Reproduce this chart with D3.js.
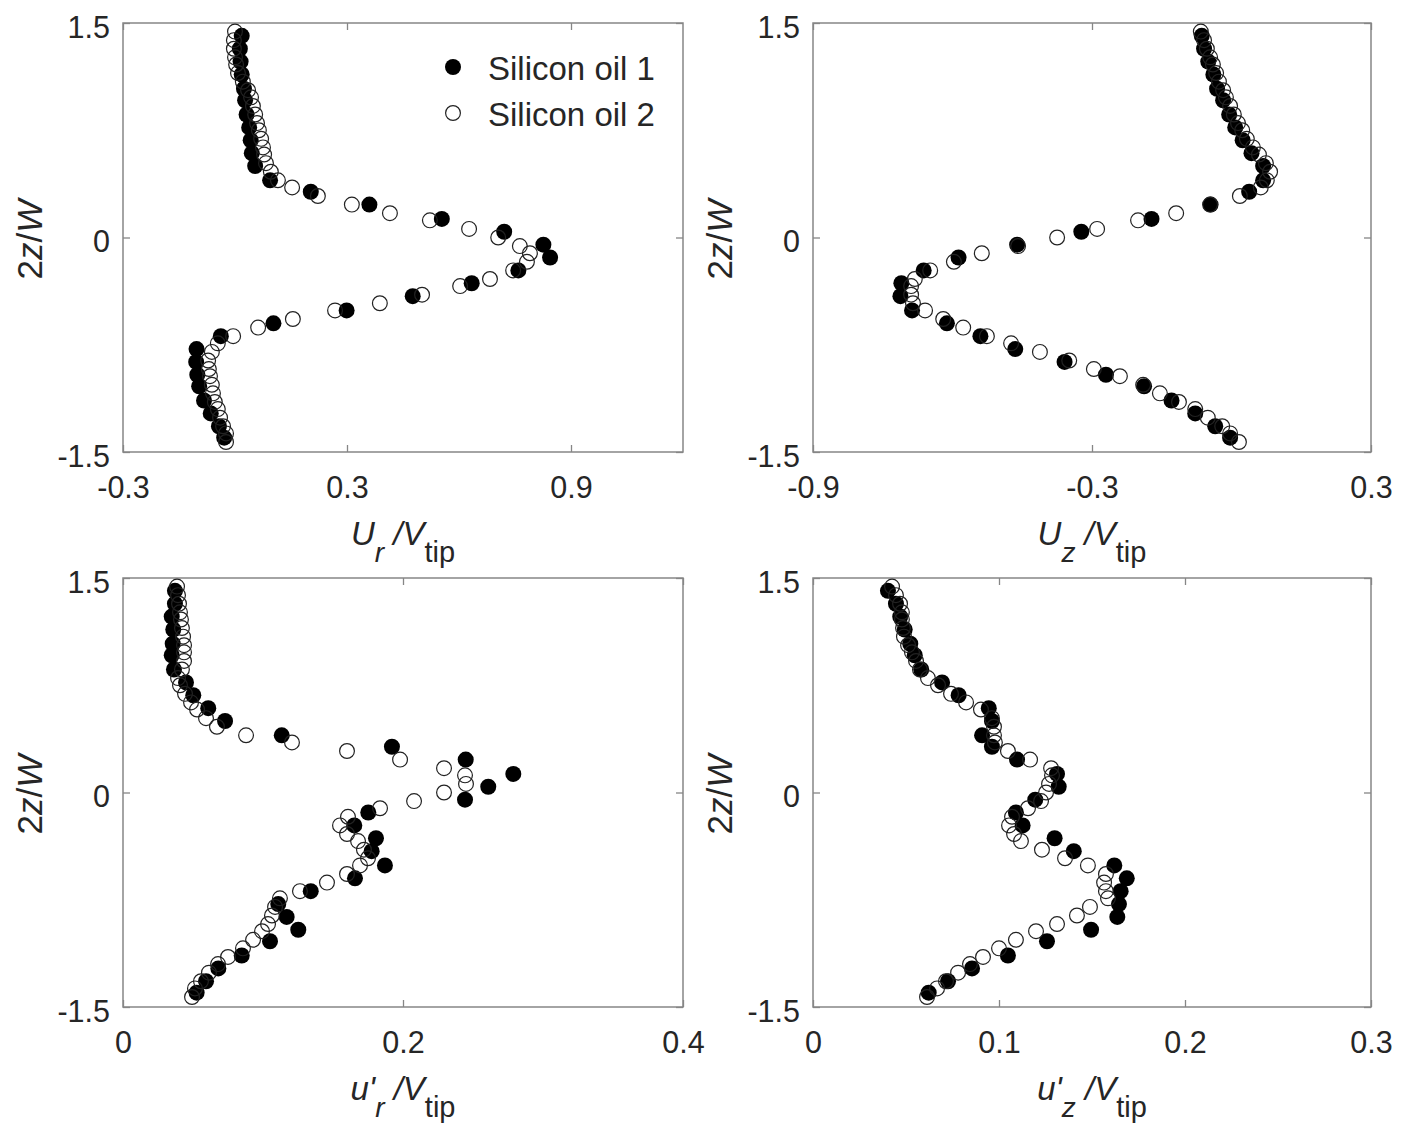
<!DOCTYPE html>
<html>
<head>
<meta charset="utf-8">
<script src="https://cdn.jsdelivr.net/npm/d3@7"></script>
<style>
  body { margin: 0; background: #fff; }
  text { font-family: Arial, "Liberation Sans", Helvetica, sans-serif; fill: #262626; }
</style>
</head>
<body>
<script>
// normalised height 2z/W for each series
const zOil1 = [1.41,1.32,1.23,1.14,1.04,0.96,0.86,0.77,0.68,0.59,0.50,0.40,0.32,0.23,0.13,0.04,
  -0.05,-0.14,-0.23,-0.32,-0.41,-0.51,-0.60,-0.69,-0.78,-0.87,-0.96,-1.04,-1.14,-1.23,-1.32,-1.40];
const zOil2 = [1.44,1.38,1.32,1.26,1.21,1.15,1.09,1.03,0.98,0.92,0.86,0.80,0.75,0.69,0.63,0.58,0.52,
  0.46,0.40,0.35,0.29,0.23,0.17,0.12,0.06,0.00,-0.06,-0.11,-0.17,-0.23,-0.29,-0.34,-0.40,-0.46,-0.51,
  -0.57,-0.63,-0.69,-0.74,-0.80,-0.86,-0.92,-0.97,-1.03,-1.09,-1.15,-1.20,-1.26,-1.32,-1.37,-1.43];

// Ur/Vtip
const urOil1 = [0.018,0.013,0.015,0.018,0.024,0.027,0.031,0.038,0.042,0.045,0.054,0.094,0.203,0.360,
  0.554,0.721,0.826,0.844,0.759,0.634,0.476,0.299,0.103,-0.038,-0.103,-0.104,-0.101,-0.096,-0.083,
  -0.065,-0.043,-0.029];
const urOil2 = [0.000,-0.003,-0.003,0.000,0.003,0.008,0.021,0.035,0.043,0.048,0.054,0.059,0.064,0.070,
  0.075,0.078,0.083,0.096,0.115,0.153,0.222,0.313,0.415,0.522,0.627,0.705,0.763,0.790,0.782,0.745,
  0.683,0.603,0.501,0.388,0.268,0.155,0.062,-0.005,-0.046,-0.062,-0.072,-0.070,-0.067,-0.062,-0.059,
  -0.054,-0.046,-0.040,-0.032,-0.024,-0.024];

// Uz/Vtip
const uzOil1 = [-0.064,-0.059,-0.050,-0.039,-0.031,-0.018,-0.005,0.008,0.024,0.043,0.068,0.068,0.038,
  -0.045,-0.172,-0.323,-0.461,-0.587,-0.662,-0.710,-0.712,-0.687,-0.612,-0.540,-0.465,-0.359,-0.270,
  -0.188,-0.129,-0.078,-0.035,-0.003];
const uzOil2 = [-0.066,-0.059,-0.053,-0.046,-0.040,-0.033,-0.027,-0.018,-0.012,-0.003,0.005,0.014,0.023,
  0.033,0.046,0.059,0.074,0.083,0.076,0.063,0.018,-0.046,-0.119,-0.201,-0.289,-0.375,-0.459,-0.537,
  -0.597,-0.648,-0.681,-0.689,-0.689,-0.685,-0.659,-0.620,-0.577,-0.526,-0.474,-0.412,-0.349,-0.296,
  -0.240,-0.190,-0.154,-0.113,-0.078,-0.051,-0.020,-0.003,0.016];

// u'r/Vtip
const urRmsOil1 = [0.0371,0.0371,0.0348,0.0359,0.0355,0.0348,0.0364,0.0450,0.0502,0.0609,0.0729,0.1134,
  0.1921,0.2448,0.2788,0.2609,0.2443,0.1752,0.1652,0.1807,0.1776,0.1871,0.1657,0.1341,0.1109,0.1169,
  0.1252,0.1050,0.0848,0.0681,0.0593,0.0526];
const urRmsOil2 = [0.0386,0.0393,0.0400,0.0407,0.0414,0.0421,0.0429,0.0436,0.0436,0.0436,0.0421,0.0393,
  0.0407,0.0443,0.0486,0.0529,0.0593,0.0671,0.0879,0.1207,0.1600,0.1979,0.2293,0.2443,0.2450,0.2293,
  0.2079,0.1836,0.1607,0.1550,0.1600,0.1679,0.1721,0.1750,0.1693,0.1600,0.1457,0.1264,0.1121,0.1086,
  0.1064,0.1036,0.0993,0.0929,0.0857,0.0750,0.0679,0.0614,0.0557,0.0514,0.0493];

// u'z/Vtip
const uzRmsOil1 = [0.0403,0.0446,0.0469,0.0493,0.0523,0.0547,0.0582,0.0694,0.0783,0.0945,0.0962,0.0909,
  0.0962,0.1097,0.1312,0.1321,0.1195,0.1091,0.1127,0.1299,0.1402,0.1620,0.1687,0.1654,0.1645,0.1636,
  0.1495,0.1258,0.1048,0.0855,0.0726,0.0622];
const uzRmsOil2 = [0.0425,0.0446,0.0468,0.0478,0.0478,0.0484,0.0489,0.0511,0.0532,0.0554,0.0575,0.0618,
  0.0672,0.0742,0.0823,0.0903,0.0962,0.0973,0.0973,0.0978,0.1048,0.1167,0.1280,0.1285,0.1269,0.1253,
  0.1226,0.1156,0.1070,0.1054,0.1081,0.1118,0.1231,0.1355,0.1478,0.1575,0.1565,0.1575,0.1586,0.1489,
  0.1419,0.1312,0.1199,0.1091,0.1000,0.0914,0.0844,0.0780,0.0715,0.0667,0.0613];

const yTicks = [-1.5, 0, 1.5];
const seriesNames = ["Silicon oil 1", "Silicon oil 2"];

const panels = [
  {x0:123, y0:23, w:560, h:429, dom:[-0.3,1.2], ticks:[-0.3,0.3,0.9], a:urOil1, b:urOil2, sym:"U", sub:"r", legend:true},
  {x0:813, y0:23, w:558, h:429, dom:[-0.9,0.3], ticks:[-0.9,-0.3,0.3], a:uzOil1, b:uzOil2, sym:"U", sub:"z"},
  {x0:123, y0:578, w:560, h:429, dom:[0,0.4], ticks:[0,0.2,0.4], a:urRmsOil1, b:urRmsOil2, sym:"u'", sub:"r"},
  {x0:813, y0:578, w:558, h:429, dom:[0,0.3], ticks:[0,0.1,0.2,0.3], a:uzRmsOil1, b:uzRmsOil2, sym:"u'", sub:"z"}
];

const axisColor = "#868686";
const fmt = d => String(d);

const svg = d3.select("body").append("svg")
  .attr("width", 1414)
  .attr("height", 1127);

panels.forEach(p => {
  const g = svg.append("g").attr("transform", `translate(${p.x0},${p.y0})`);
  const x = d3.scaleLinear().domain(p.dom).range([0, p.w]);
  const y = d3.scaleLinear().domain([-1.5, 1.5]).range([p.h, 0]);

  // ticks pointing inward, box like matlab
  g.append("g").attr("transform", `translate(0,${p.h})`)
    .call(d3.axisBottom(x).tickValues(p.ticks).tickSize(-7).tickSizeOuter(0).tickPadding(24).tickFormat(fmt));
  g.append("g")
    .call(d3.axisTop(x).tickValues(p.ticks).tickSize(-7).tickSizeOuter(0).tickFormat(""));
  const left = g.append("g")
    .call(d3.axisLeft(y).tickValues(yTicks).tickSize(-7).tickSizeOuter(0).tickPadding(13).tickFormat(fmt));
  g.append("g").attr("transform", `translate(${p.w},0)`)
    .call(d3.axisRight(y).tickValues(yTicks).tickSize(-7).tickSizeOuter(0).tickFormat(""));

  g.selectAll(".domain").remove();
  g.selectAll(".tick line").attr("stroke", axisColor).attr("stroke-width", 1.3);
  g.selectAll(".tick text").attr("font-size", 30.5).attr("fill", "#262626")
    .style("font-family", "Arial, 'Liberation Sans', sans-serif");
  left.selectAll(".tick text").attr("dy", "0.47em");

  g.append("rect")
    .attr("width", p.w).attr("height", p.h)
    .attr("fill", "none").attr("stroke", axisColor).attr("stroke-width", 1.5);

  // filled series first, open circles (no fill) on top
  g.selectAll("circle.s1")
    .data(p.a.map((v, i) => [v, zOil1[i]]))
    .enter().append("circle").attr("class", "s1")
    .attr("cx", d => x(d[0])).attr("cy", d => y(d[1])).attr("r", 8)
    .attr("fill", "#000");
  g.selectAll("circle.s2")
    .data(p.b.map((v, i) => [v, zOil2[i]]))
    .enter().append("circle").attr("class", "s2")
    .attr("cx", d => x(d[0])).attr("cy", d => y(d[1])).attr("r", 7.4)
    .attr("fill", "none").attr("stroke", "#222").attr("stroke-width", 1.2);

  // y label
  g.append("text")
    .attr("transform", `translate(-81,${p.h / 2 + 2}) rotate(-90)`)
    .attr("text-anchor", "middle")
    .attr("font-size", 35)
    .call(t => {
      t.append("tspan").text("2");
      t.append("tspan").attr("font-style", "italic").text("z");
      t.append("tspan").text("/");
      t.append("tspan").attr("font-style", "italic").text("W");
    });

  // x label
  g.append("text")
    .attr("x", p.w / 2).attr("y", p.h + 93)
    .attr("text-anchor", "middle")
    .attr("font-size", 33)
    .call(t => {
      t.append("tspan").attr("font-style", "italic").text(p.sym);
      t.append("tspan").attr("font-style", "italic").attr("font-size", 28).attr("dy", 17).text(p.sub);
      t.append("tspan").attr("font-style", "italic").attr("dy", -17).text("\u00a0/V");
      t.append("tspan").attr("font-size", 29).attr("dy", 17).text("tip");
    });

  if (p.legend) {
    const lg = g.append("g").attr("transform", "translate(330,44)");
    seriesNames.forEach((name, i) => {
      const row = lg.append("g").attr("transform", `translate(0,${i * 46})`);
      if (i === 0) {
        row.append("circle").attr("r", 8).attr("fill", "#000");
      } else {
        row.append("circle").attr("r", 7.4).attr("fill", "none").attr("stroke", "#222").attr("stroke-width", 1.2);
      }
      row.append("text").attr("x", 35).attr("y", 13).attr("font-size", 33).text(name);
    });
  }
});
</script>
</body>
</html>
